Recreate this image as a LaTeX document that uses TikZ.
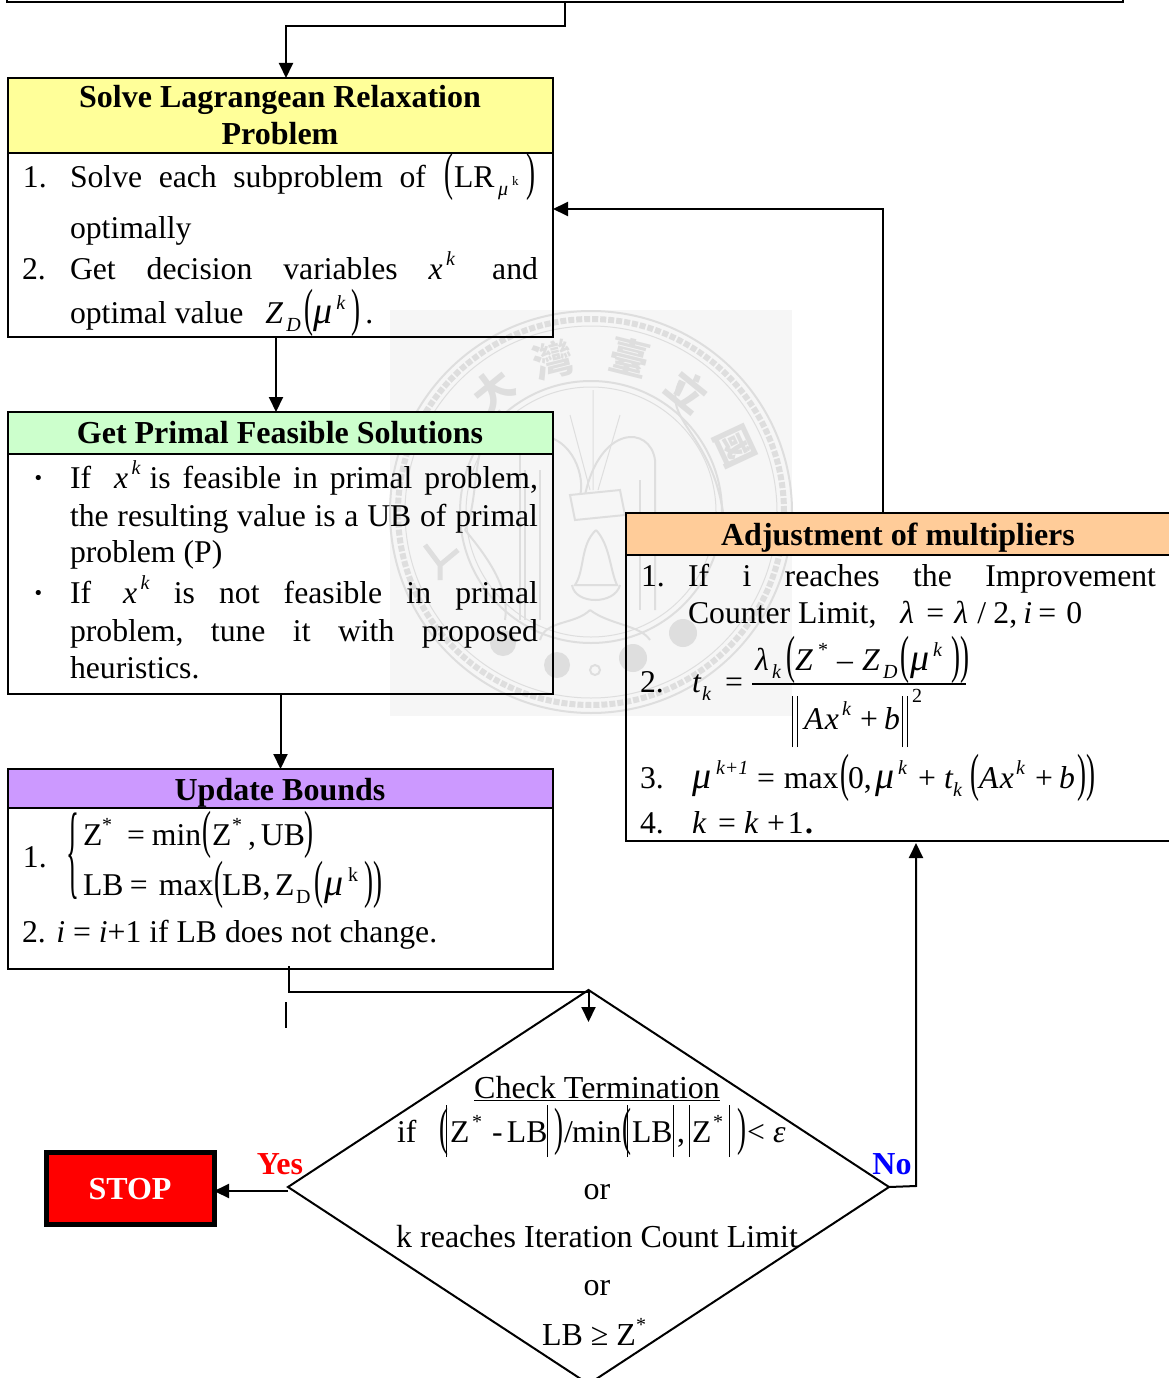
\documentclass[tikz,border=0pt]{standalone}
\usepackage{fontspec}
\setmainfont{Liberation Serif}
\newfontfamily\cjkfont{Noto Sans CJK TC}
\usetikzlibrary{arrows.meta,shapes.geometric}
\definecolor{hyellow}{HTML}{FFFF99}
\definecolor{hgreen}{HTML}{CCFFCC}
\definecolor{hpurple}{HTML}{CC99FF}
\definecolor{horange}{HTML}{FFCC99}
\definecolor{sealbg}{HTML}{F6F6F6}
\definecolor{sealln}{HTML}{DEDEDE}
\newcommand{\ssz}{\fontsize{20}{20}\selectfont}
\newcommand{\sps}[1]{\raisebox{.42em}{\ssz\textit{#1}}}
\newcommand{\sbs}[1]{\raisebox{-.28em}{\ssz\textit{#1}}}
\newcommand{\spn}[1]{\raisebox{.42em}{\ssz #1}}
\newcommand{\sbn}[1]{\raisebox{-.28em}{\ssz #1}}
\newcommand{\tlp}{\raisebox{-.07em}{\scalebox{.85}[1.65]{(}}}
\newcommand{\trp}{\raisebox{-.07em}{\scalebox{.85}[1.65]{)}}}
\newcommand{\tvb}{\rule[-15pt]{1.1pt}{52pt}}
\newcommand{\dvb}{\rule[-18pt]{1.2pt}{51pt}\kern3.5pt\rule[-18pt]{1.2pt}{51pt}}
\newcommand{\jl}[2]{\hbox to #1pt{#2}}
\newcommand{\hf}{\hfill}
\newcommand{\mi}[1]{\textit{#1}}
\newcommand{\mmu}{\textit{\fontsize{38}{38}\selectfont μ}}
\newcommand{\pp}[2]{\rlap{\kern#1pt #2}}
\tikzset{
  lbl/.style={inner sep=0pt,outer sep=0pt,anchor=base west,font=\fontsize{31.7}{36}\selectfont},
  ctr/.style={lbl,anchor=base},
  dtx/.style={ctr,font=\fontsize{32}{36}\selectfont},
  hd/.style={ctr,font=\fontsize{32}{36}\selectfont\bfseries},
  bx/.style={draw=black,line width=2pt,inner sep=0pt,outer sep=0pt,rectangle},
  conn/.style={draw=black,line width=2pt},
  arr/.style={conn,-{Triangle[length=15pt,width=14pt]}},
  seal/.style={draw=sealln,line width=2pt},
  sealc/.style={inner sep=0pt,text=sealln,font=\fontsize{40}{40}\selectfont\cjkfont\bfseries}
}
\begin{document}
\begin{tikzpicture}[x=1pt,y=-1pt]
\useasboundingbox (0,0) rectangle (1169,1378);
\clip (0,0) rectangle (1169,1378);
% watermark
\fill[sealbg] (390,310) rectangle (792,716);
\draw[seal] (591,512) circle (201pt);
\draw[seal,line width=1pt] (591,512) circle (186pt);
\draw[seal,line width=6pt,dotted] (591,512) circle (193pt);
\draw[seal] (591,512) circle (131pt);
\draw[seal,line width=1pt] (591,512) circle (125pt);
\node[sealc,rotate=39] (sa) at (493,390) {大};
\node[sealc,rotate=14] (sb) at (553,360) {灣};
\node[sealc,rotate=-14] (sc) at (630,357) {臺};
\node[sealc,rotate=-39] (sd) at (688,390) {立};
\node[sealc,rotate=-65] (se) at (735,447) {國};
\draw[seal,line width=5pt] (425,545) -- (440,565) -- (458,550) (440,565) -- (440,580);
\fill[sealln] (503,643) circle (13pt) (557,665) circle (13pt) (633,658) circle (14pt) (683,633) circle (14pt);
\draw[seal] (595,670) circle (5pt);
\draw[seal] (535,435) .. controls (575,435) and (585,480) .. (580,495);
\draw[seal] (585,495) .. controls (600,425) and (650,425) .. (655,460) -- (655,610);
\draw[seal] (525,470) -- (525,620) (540,470) -- (540,620);
\draw[seal] (640,480) -- (640,610);
\draw[seal] (520,440) -- (520,620);
\draw[seal,line width=1pt] (593,390) -- (593,490) (570,415) -- (590,490) (620,415) -- (598,490);
\draw[seal,fill=sealbg] (570,495) -- (620,490) -- (625,515) -- (575,520) -- cycle;
\draw[seal] (596,530) .. controls (580,545) and (585,570) .. (575,585) -- (617,585) .. controls (610,570) and (610,545) .. (596,530);
\draw[seal] (572,585) .. controls (575,605) and (615,605) .. (620,585);
\draw[seal] (590,610) .. controls (575,625) and (545,620) .. (540,640);
\draw[seal] (590,610) .. controls (610,625) and (640,625) .. (650,640);
\draw[seal] (680,380) .. controls (660,420) and (710,430) .. (723,512);
\draw[seal] (500,410) .. controls (470,440) and (480,500) .. (465,530);
\draw[seal] (465,530) .. controls (490,560) and (510,590) .. (505,620);
% top box (only its bottom edge is in the picture)
\node[bx,minimum width=1116pt,minimum height=60pt] (top) at (565,-28) {};
% box 1
\node[bx,fill=hyellow,minimum width=545pt,minimum height=75pt] (h1) at (280.5,115.5) {};
\node[bx,minimum width=545pt,minimum height=184pt] (b1) at (280.5,245) {};
\node[hd] (h1a) at (280,108) {Solve Lagrangean Relaxation};
\node[hd] (h1b) at (280,144) {Problem};
\node[lbl] (t1a) at (23,187) {1.};
\node[lbl] (t1b) at (70,187) {\jl{356}{Solve\hf each\hf subproblem\hf of}\pp{18}{\tlp}\pp{28}{LR}\pp{72}{\sbs{μ}}\pp{86}{\raisebox{.05em}{\fontsize{13}{13}\selectfont k}}\pp{100}{\trp}\kern110pt};
\node[lbl] (t1c) at (70,238) {optimally};
\node[lbl] (t1d) at (22,279) {2.};
\node[lbl] (t1e) at (70,279) {\jl{468}{Get\hf decision\hf variables\hf \mi{x}\sps{\,k}\kern6pt\hf and}};
\node[lbl] (t1f) at (70,323) {optimal value\pp{22}{\mi{Z}}\pp{43}{\sbs{D}}\pp{61}{\tlp}\pp{70}{\mmu}\pp{93}{\sps{k}}\pp{108}{\trp}\pp{122}{.}\kern130pt};
% box 2
\node[bx,fill=hgreen,minimum width=545pt,minimum height=42pt] (h2) at (280.5,433) {};
\node[bx,minimum width=545pt,minimum height=240pt] (b2) at (280.5,574) {};
\node[hd] (h2a) at (280,443) {Get Primal Feasible Solutions};
\node[lbl,font=\fontsize{31.7}{36}\selectfont\bfseries] (t2a) at (33,488) {·};
\node[lbl] (t2b) at (70,488) {\jl{468}{If\kern23pt \mi{x}\sps{\,k}\kern9pt is\hf feasible\hf in\hf primal\hf problem,}};
\node[lbl] (t2c) at (70,526) {\jl{468}{the\hf resulting\hf value\hf is\hf a\hf UB\hf of\hf primal}};
\node[lbl] (t2d) at (70,562) {problem (P)};
\node[lbl,font=\fontsize{31.7}{36}\selectfont\bfseries] (t2e) at (33,603) {·};
\node[lbl] (t2f) at (70,603) {\jl{468}{If\kern32pt \mi{x}\sps{\,k}\hf is\hf not\hf feasible\hf in\hf primal}};
\node[lbl] (t2g) at (70,641) {\jl{468}{problem,\hf tune\hf it\hf with\hf proposed}};
\node[lbl] (t2h) at (70,678) {heuristics.};
% box 3
\node[bx,fill=hpurple,minimum width=545pt,minimum height=39pt] (h3) at (280.5,788.5) {};
\node[bx,minimum width=545pt,minimum height=161pt] (b3) at (280.5,888.5) {};
\node[hd] (h3a) at (280,800) {Update Bounds};
\node[lbl] (t3a) at (23,867) {1.};
\node[lbl] (t3br) at (66,885) {\scalebox{.85}[3.3]{\{}};
\node[lbl] (t3b) at (83,845) {\pp{0}{Z}\pp{19}{\spn{*}}\pp{44}{=}\pp{69}{min}\pp{119}{\tlp}\pp{129}{Z}\pp{149}{\spn{*}}\pp{165}{,}\pp{178}{UB}\pp{221}{\trp}\kern230pt};
\node[lbl] (t3c) at (83,895) {\pp{0}{LB}\pp{47}{=}\pp{76}{max}\pp{131}{\tlp}\pp{139}{LB,}\pp{192}{Z}\pp{213}{\sbn{D}}\pp{231}{\tlp}\pp{241}{\mmu}\pp{265}{\spn{k}}\pp{281}{\trp}\pp{290}{\trp}\kern299pt};
\node[lbl] (t3d) at (22,942) {2. \mi{i} = \mi{i}+1 if LB does not change.};
% box 4
\node[bx,fill=horange,minimum width=600pt,minimum height=42pt] (h4) at (926,534) {};
\node[bx,minimum width=600pt,minimum height=286pt] (b4) at (926,698) {};
\node[hd] (h4a) at (898,545) {Adjustment of multipliers};
\node[lbl] (t4a) at (641,586) {1.};
\node[lbl] (t4b) at (688,586) {\jl{468}{If\hf i\hf reaches\hf the\hf Improvement}};
\node[lbl] (t4c) at (688,623) {Counter Limit,\pp{24}{\mi{λ}}\pp{50}{=}\pp{78}{\mi{λ}}\pp{101}{/}\pp{117}{2,}\pp{147}{\mi{i}}\pp{162}{=}\pp{190}{0}\kern206pt};
\node[lbl] (t4d) at (640,692) {2.};
\node[lbl] (t4e) at (692,692) {\pp{0}{\mi{t}}\pp{10}{\sbs{k}}\pp{33}{=}\kern52pt};
\node[lbl] (t4f) at (755,670) {\pp{0}{\mi{λ}}\pp{17}{\sbs{k}}\pp{31}{\tlp}\pp{40}{\mi{Z}}\pp{63}{\spn{*}}\pp{82}{–}\pp{107}{\mi{Z}}\pp{128}{\sbs{D}}\pp{145}{\tlp}\pp{155}{\mmu}\pp{178}{\sps{k}}\pp{196}{\trp}\pp{205}{\trp}\kern212pt};
\coordinate (fl) at (752,684);
\coordinate (fr) at (966,684);
\draw[line width=1.2pt] (fl) -- (fr);
\node[lbl] (t4g) at (792,729) {\pp{0}{\dvb}\pp{12}{\mi{A}}\pp{33}{\mi{x}}\pp{50}{\sps{k}}\pp{68}{+}\pp{92}{\mi{b}}\pp{110}{\dvb}\pp{120}{\raisebox{.85em}{\ssz 2}}\kern130pt};
\node[lbl] (t4h) at (640,788) {3.};
\node[lbl] (t4i) at (692,788) {\pp{0}{\mmu}\pp{24}{\sps{k+1}}\pp{65}{=}\pp{92}{max}\pp{148}{\tlp}\pp{156}{0,}\pp{183}{\mmu}\pp{206}{\sps{k}}\pp{226}{+}\pp{252}{\mi{t}}\pp{261}{\sbs{k}}\pp{278}{\tlp}\pp{287}{\mi{A}}\pp{308}{\mi{x}}\pp{324}{\sps{k}}\pp{343}{+}\pp{367}{\mi{b}}\pp{385}{\trp}\pp{394}{\trp}\kern402pt};
\node[lbl] (t4j) at (640,833) {4.};
\node[lbl] (t4k) at (692,833) {\pp{0}{\mi{k}}\pp{26}{=}\pp{52}{\mi{k}}\pp{75}{+}\pp{96}{1}\pp{113}{\textbf{.}}\kern120pt};
% diamond
\node[draw=black,line width=2pt,diamond,inner sep=0pt,outer sep=0pt,minimum width=601pt,minimum height=394pt] (dia) at (588.5,1187) {};
\node[dtx] (d1) at (597,1098) {\underline{Check Termination}};
\node[lbl] (d2) at (397,1142) {\pp{0}{if}\pp{42}{\tlp}\pp{49}{\tvb}\pp{53}{Z}\pp{75}{\spn{*}}\pp{95}{-}\pp{110}{LB}\pp{150}{\tvb}\pp{157}{\trp}\pp{167}{/}\pp{175}{min}\pp{225}{\tlp}\pp{230}{\tvb}\pp{235}{LB}\pp{276}{\tvb}\pp{280}{,}\pp{292}{\tvb}\pp{295}{Z}\pp{316}{\spn{*}}\pp{332}{\tvb}\pp{340}{\trp}\pp{350}{<}\pp{376}{\mi{ε}}\kern395pt};
\node[dtx] (d3) at (597,1199) {or};
\node[dtx] (d4) at (597,1247) {k reaches Iteration Count Limit};
\node[dtx] (d5) at (597,1295) {or};
\node[dtx] (d6) at (594,1345) {LB ≥ Z\spn{*}};
% stop
\node[draw=black,line width=5pt,fill=red,minimum width=168pt,minimum height=72pt,inner sep=0pt,outer sep=0pt] (stop) at (130,1188) {};
\node[ctr,text=white,font=\fontsize{32}{36}\selectfont\bfseries] (stopt) at (130,1199) {STOP};
\node[ctr,text=red,font=\fontsize{32}{36}\selectfont\bfseries] (yes) at (280,1174) {Yes};
\node[ctr,text=blue,font=\fontsize{32}{36}\selectfont\bfseries] (no) at (892,1174) {No};
% connectors
\draw[arr] (top.south) -- ++(0,24) -| ([xshift=5.5pt]h1.north);
\draw[arr] ([xshift=-4.5pt]b1.south) -- ([xshift=-4.5pt]h2.north);
\draw[arr] (b2.south) -- (h3.north);
\draw[conn] ([xshift=8pt]b3.south) ++(0,-3) -- ++(0,26) -| (dia.north);
\draw[arr] (dia.north) -- ++(0,32);
\coordinate (stray) at (286,1002);
\draw[conn] (stray) -- ++(0,26);
\draw[arr] ([yshift=-4pt]dia.west) -- ([yshift=-3pt]stop.east);
\draw[arr] (dia.east) -- ++(27,-1) -- ([xshift=-10pt,yshift=-2pt]b4.south);
\draw[arr] ([xshift=-43pt]h4.north) |- ([yshift=36pt]b1.east);
\end{tikzpicture}
\end{document}
